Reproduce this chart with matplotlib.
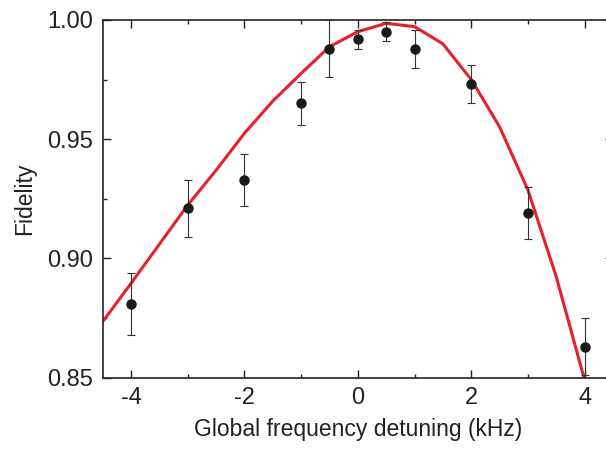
import numpy as np
import matplotlib
matplotlib.use("Agg")
import matplotlib.pyplot as plt
from matplotlib.ticker import MultipleLocator, FormatStrFormatter

plt.rcParams['font.family'] = ['Liberation Sans', 'DejaVu Sans']
plt.rcParams['axes.unicode_minus'] = False

# measured fidelity
det = [-4, -3, -2, -1, -0.5, 0, 0.5, 1, 2, 3, 4]
fid = [0.881, 0.921, 0.933, 0.965, 0.988, 0.992, 0.995, 0.988, 0.973, 0.919, 0.863]
err = [0.013, 0.012, 0.011, 0.009, 0.012, 0.004, 0.004, 0.008, 0.008, 0.011, 0.012]

# theory curve
det_th = [-4.5, -4, -3.5, -3, -2.5, -2, -1.5, -1, -0.5, 0, 0.5, 1, 1.5, 2, 2.5, 3, 3.5, 4]
fid_th = [0.8735, 0.8896, 0.906, 0.9224, 0.937, 0.9525, 0.966, 0.9776, 0.9888, 0.9951,
          0.9986, 0.9972, 0.990, 0.975, 0.9552, 0.9287, 0.8923, 0.849]

fig = plt.figure(figsize=(6.06, 4.49), dpi=100)
ax = fig.add_axes([0.1695, 0.1588, 0.842, 0.7967])

ax.plot(det_th, fid_th, color='#e8202a', lw=2.2, zorder=2)
ax.errorbar(det, fid, yerr=err, fmt='o', color='#1a1a1a', ms=6.5,
            ecolor='#333333', elinewidth=0.8, capsize=3.2, capthick=0.8, zorder=3)

ax.set_xlim(-4.5, 4.5)
ax.set_ylim(0.85, 1.0)
ax.xaxis.set_major_locator(MultipleLocator(2))
ax.xaxis.set_minor_locator(MultipleLocator(1))
ax.yaxis.set_major_locator(MultipleLocator(0.05))
ax.yaxis.set_minor_locator(MultipleLocator(0.025))
ax.yaxis.set_major_formatter(FormatStrFormatter('%.2f'))

ax.tick_params(which='both', direction='in', top=True, right=True, labelsize=17,
               width=1.0, colors='#222222')
ax.tick_params(which='major', length=5.5, pad=7)
ax.tick_params(which='minor', length=3)
for s in ax.spines.values():
    s.set_linewidth(1.2)
    s.set_color('#222222')

ax.set_xlabel('Global frequency detuning (kHz)', fontsize=16.5, color='#222222', labelpad=6)
ax.set_ylabel('Fidelity', fontsize=16.5, color='#222222', labelpad=8)

fig.savefig('out.png', dpi=100)
